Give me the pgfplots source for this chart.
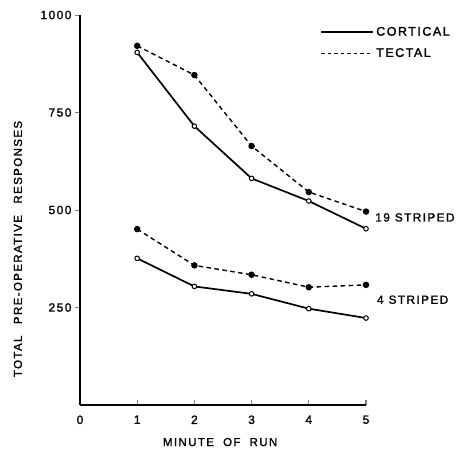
\documentclass[border=0pt]{standalone}
\usepackage{fontspec}
\setmainfont{Liberation Sans}
\newfontfamily\lbl[LetterSpace=12,FakeBold=1.5]{Liberation Sans}
\usepackage{pgfplots}
\pgfplotsset{compat=1.18}
\begin{document}
\begin{tikzpicture}
\path[use as bounding box] (-80pt,-45pt) rectangle (380pt,405pt);
\begin{axis}[
  at={(0,0)}, anchor=south west,
  scale only axis,
  width=286pt, height=390pt,
  xmin=0, xmax=5, ymin=0, ymax=1000,
  axis x line*=bottom, axis y line*=left,
  axis line style={line width=1.1pt},
  xtick={0,1,2,3,4,5}, ytick={250,500,750,1000},
  tick align=outside, major tick length=5pt,
  x tick style={yshift=5pt, line width=1.1pt},
  y tick style={line width=0.9pt},
  /pgf/number format/assume math mode=true,
  /pgf/number format/1000 sep={},
  ticklabel style={font=\lbl\fontsize{12}{14}\selectfont},
  xticklabel style={yshift=-2pt},
  xlabel={MINUTE\ \ OF\ \ RUN},
  ylabel={TOTAL\quad PRE-OPERATIVE\quad RESPONSES},
  label style={font=\lbl\fontsize{11.5}{13}\selectfont},
  xlabel style={at={(axis description cs:0.49,-0.095)}, anchor=center},
  ylabel style={at={(axis description cs:-0.217,0.40)}, anchor=center},
  legend style={draw=none, fill=none, at={(axis description cs:0.84,0.975)}, anchor=north west,
    font=\lbl\fontsize{12.5}{14}\selectfont, row sep=7pt, inner sep=0pt},
  legend cell align=left,
  legend image code/.code={\draw[#1] (0pt,0pt) -- (52pt,0pt);},
  clip=false,
]
\addlegendimage{black, line width=1.8pt}
\addlegendentry{CORTICAL}
\addlegendimage{black, line width=1.3pt, dash pattern=on 3.5pt off 3pt}
\addlegendentry{TECTAL}
% 19 striped
\addplot[black, line width=1.7pt, mark=*, mark size=2.3pt, mark options={fill=white, line width=1pt}, forget plot]
  coordinates {(1,904) (2,715) (3,581) (4,523) (5,452)};
\addplot[black, line width=1.4pt, dash pattern=on 4.5pt off 3.5pt, mark=*, mark size=2.5pt, mark options={solid, fill=black}, forget plot]
  coordinates {(1,921) (2,846) (3,664) (4,546) (5,496)};
% 4 striped
\addplot[black, line width=1.7pt, mark=*, mark size=2.3pt, mark options={fill=white, line width=1pt}, forget plot]
  coordinates {(1,376) (2,304) (3,285) (4,247) (5,223)};
\addplot[black, line width=1.4pt, dash pattern=on 4.5pt off 3.5pt, mark=*, mark size=2.5pt, mark options={solid, fill=black}, forget plot]
  coordinates {(1,451) (2,358) (3,334) (4,302) (5,308)};
\node[anchor=west, inner sep=0pt, font=\lbl\fontsize{11.8}{13}\selectfont] at (axis cs:5.16,481) {19\hspace{5pt}STRIPED};
\node[anchor=west, inner sep=0pt, font=\lbl\fontsize{11.8}{13}\selectfont] at (axis cs:5.19,270) {4\hspace{5pt}STRIPED};
\end{axis}
\end{tikzpicture}
\end{document}
